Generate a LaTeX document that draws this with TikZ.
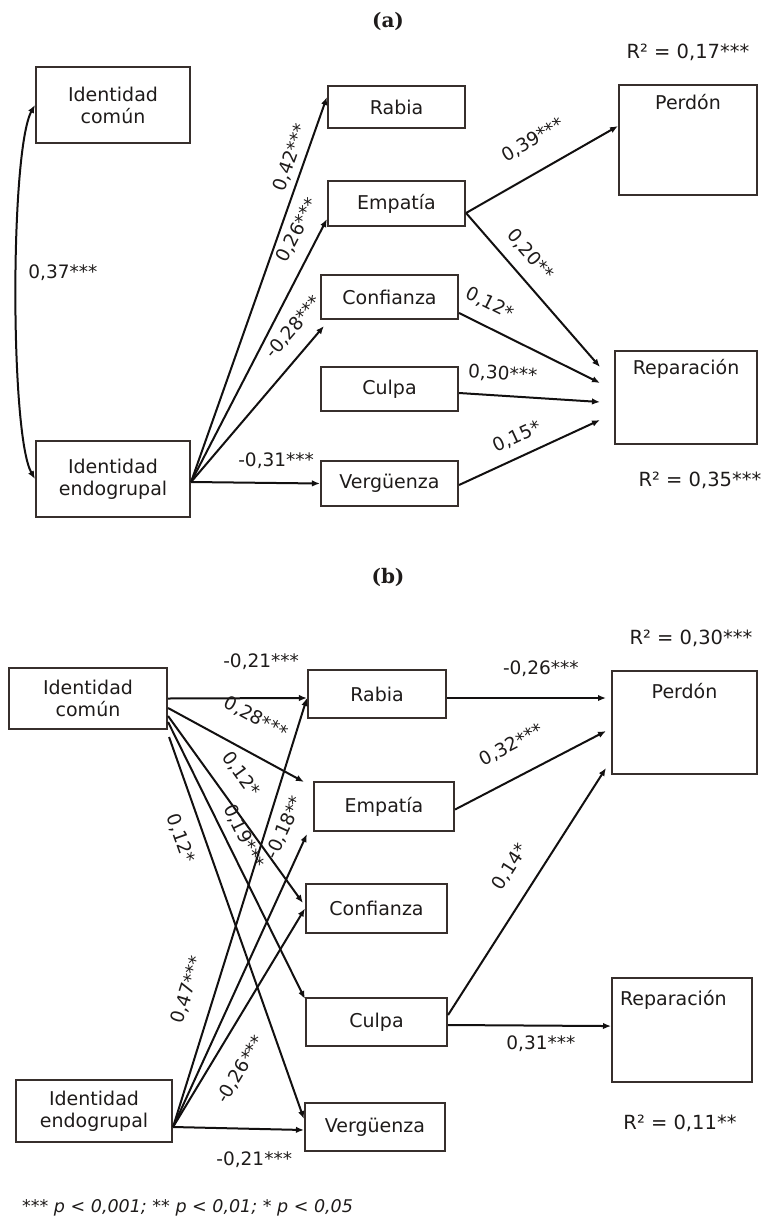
\documentclass[tikz,border=0pt]{standalone}
\usepackage{fontspec}
\newfontfamily\dv{DejaVu Sans}
\newfontfamily\ttlfont{DejaVu Serif}
\usetikzlibrary{arrows.meta}
\definecolor{boxc}{RGB}{55,47,44}
\definecolor{linec}{RGB}{18,16,16}
\definecolor{txt}{RGB}{30,27,26}
\begin{document}
\begin{tikzpicture}[x=1pt,y=-1pt,
  box/.style={draw=boxc, line width=2.1pt, inner sep=0pt, text=txt,
    font=\dv\fontsize{19}{22}\selectfont},
  arr/.style={draw=linec, line width=2pt, -{Latex[length=8pt,width=6.5pt]}},
  biarr/.style={draw=linec, line width=2pt, {Latex[length=8pt,width=6.5pt]}-{Latex[length=8pt,width=6.5pt]}},
  lab/.style={font=\dv\fontsize{18.5}{22}\selectfont, text=txt, inner sep=0pt},
  rsq/.style={font=\dv\fontsize{19.5}{23}\selectfont, text=txt, inner sep=0pt},
  ttl/.style={font=\ttlfont\bfseries\fontsize{20}{24}\selectfont, text=txt, inner sep=0pt},
  note/.style={font=\dv\itshape\fontsize{17.5}{21}\selectfont, text=txt, inner sep=0pt},
]
\useasboundingbox (0,0) rectangle (766,1218);

% ---------------- (a) ----------------
\node[ttl] (ta) at (388,21) {(a)};

\node[box, align=center, minimum width=154pt, minimum height=76pt] (ica) at (113,105) {Identidad\\común};
\node[box, align=center, minimum width=154pt, minimum height=76pt] (iea) at (113,479) {Identidad\\endogrupal};

\node[box, minimum width=137pt, minimum height=42pt] (rab) at (396.5,107) {Rabia};
\node[box, minimum width=137pt, minimum height=45pt] (emp) at (396.5,203.5) {Empatía};
\node[box, minimum width=137pt, minimum height=44pt] (con) at (389.5,297) {Confianza};
\node[box, minimum width=137pt, minimum height=44pt] (cul) at (389.5,389) {Culpa};
\node[box, minimum width=137pt, minimum height=45pt] (ver) at (389.5,483.5) {Vergüenza};

\node[box, anchor=north west, minimum width=138pt, text height=24pt, text depth=86pt] (per) at (618,84) {Perdón};
\node[box, anchor=north west, minimum width=142pt, text height=23pt, text depth=70pt] (rep) at (614,350) {Reparación};

\node[rsq] (r2a) at (688,52) {R² = 0,17***};
\node[rsq] (r2b) at (700,480) {R² = 0,35***};

\coordinate (iao) at ([yshift=-3pt]iea.east);
\coordinate (ra1) at (600,367);
\coordinate (ra2) at (600,383);
\coordinate (ra3) at (600,402);
\coordinate (ra4) at (600,420);

\draw[biarr] (ica.west) .. controls (10,150) and (10,435) .. node[lab, pos=0.46, right=11pt] {0,37***} (iea.west);

\draw[arr] (iao) -- node[lab, sloped, pos=0.83, above=5pt] {0,42***} ([yshift=10pt]rab.west);
\draw[arr] (iao) -- node[lab, sloped, pos=0.92, above=12pt] {0,26***} ([yshift=8pt]emp.south west);
\draw[arr] (iao) -- node[lab, sloped, pos=0.9, above=13pt] {-0,28***} ([xshift=4pt,yshift=-6pt]con.south west);
\draw[arr] (iao) -- node[lab, pos=0.66, above=13pt] {-0,31***} (ver.west);

\draw[arr] ([yshift=-9.5pt]emp.east) -- node[lab, sloped, pos=0.54, above=21pt] {0,39***} ([yshift=14pt]per.west);
\draw[arr] ([yshift=-9.5pt]emp.east) -- node[lab, sloped, pos=0.36, above=12pt] {0,20**} (ra1);
\draw[arr] ([yshift=-16pt]con.east) -- node[lab, sloped, pos=0.15, above=13pt] {0,12*} (ra2);
\draw[arr] ([yshift=-4pt]cul.east) -- node[lab, sloped, pos=0.3, above=13pt] {0,30***} (ra3);
\draw[arr] ([yshift=-1.5pt]ver.east) -- node[lab, sloped, pos=0.47, above=10.5pt] {0,15*} (ra4);

% ---------------- (b) ----------------
\node[ttl] (tb) at (388,577) {(b)};

\node[box, align=center, minimum width=158pt, minimum height=61pt] (icb) at (88,698.5) {Identidad\\común};
\node[box, align=center, minimum width=156pt, minimum height=62pt] (ieb) at (94,1111) {Identidad\\endogrupal};

\node[box, minimum width=138pt, minimum height=48pt] (rabb) at (377,694) {Rabia};
\node[box, minimum width=140pt, minimum height=49pt] (empb) at (384,806.5) {Empatía};
\node[box, minimum width=141pt, minimum height=49pt] (conb) at (376.5,908.5) {Confianza};
\node[box, minimum width=141pt, minimum height=48pt] (culb) at (376.5,1022) {Culpa};
\node[box, minimum width=140pt, minimum height=48pt] (verb) at (375,1127) {Vergüenza};

\node[box, anchor=north west, minimum width=145pt, text height=27pt, text depth=76pt] (perb) at (611,670) {Perdón};
\node[box, anchor=north west, inner xsep=8pt, text width=124pt, align=left, text height=27pt, text depth=77pt] (repb) at (611,977) {Reparación};

\node[rsq] (r2c) at (691,638) {R² = 0,30***};
\node[rsq] (r2d) at (680,1123) {R² = 0,11**};

\coordinate (ibo) at ([yshift=-16pt]ieb.east);
\coordinate (pb1) at (606,698);
\coordinate (pb2) at (606,731);
\coordinate (pb3) at (606,768);

\draw[arr] (icb.east) -- node[lab, pos=0.67, above=28pt] {-0,21***} ([yshift=-4pt]rabb.west);
\draw[arr] ([yshift=-9.5pt]icb.east) -- node[lab, sloped, pos=0.53, above=24pt] {0,28***} ([xshift=-9pt,yshift=-1pt]empb.north west);
\draw[arr] ([yshift=-17.5pt]icb.east) -- node[lab, sloped, pos=0.39, above=16pt] {0,12*} ([xshift=-2pt,yshift=5.5pt]conb.west);
\draw[arr] ([yshift=-23.5pt]icb.east) -- node[lab, sloped, pos=0.44, above=8pt] {0,19***} ([yshift=-2pt]culb.north west);
\draw[arr] ([xshift=1pt,yshift=-38.5pt]icb.east) -- node[lab, sloped, pos=0.245, below=14pt] {0,12*} ([yshift=8pt]verb.west);

\draw[arr] (ibo) -- node[lab, sloped, pos=0.30, above=18pt] {0,47***} ([yshift=-4pt]rabb.west);
\draw[arr] (ibo) -- node[lab, sloped, pos=0.99, above=14pt] {-0,18**} ([xshift=-6pt,yshift=-2pt]empb.south west);
\draw[arr] (ibo) -- node[lab, sloped, pos=0.33, below=19.5pt] {-0,26***} (conb.west);
\draw[arr] (ibo) -- node[lab, pos=0.62, below=22pt] {-0,21***} ([yshift=-3pt]verb.west);

\draw[arr] ([yshift=-4pt]rabb.east) -- node[lab, pos=0.59, above=20pt] {-0,26***} (pb1);
\draw[arr] ([yshift=-3pt]empb.east) -- node[lab, sloped, pos=0.47, above=22pt] {0,32***} (pb2);
\draw[arr] ([yshift=7pt]culb.east) -- node[lab, sloped, pos=0.54, above=18.5pt] {0,14*} (pb3);
\draw[arr] ([yshift=-3pt]culb.east) -- node[lab, pos=0.57, below=9pt] {0,31***} ([yshift=4pt]repb.west);

\node[note, anchor=base west] (fn) at (22,1212) {*** p < 0,001; ** p < 0,01; * p < 0,05};
\end{tikzpicture}
\end{document}
